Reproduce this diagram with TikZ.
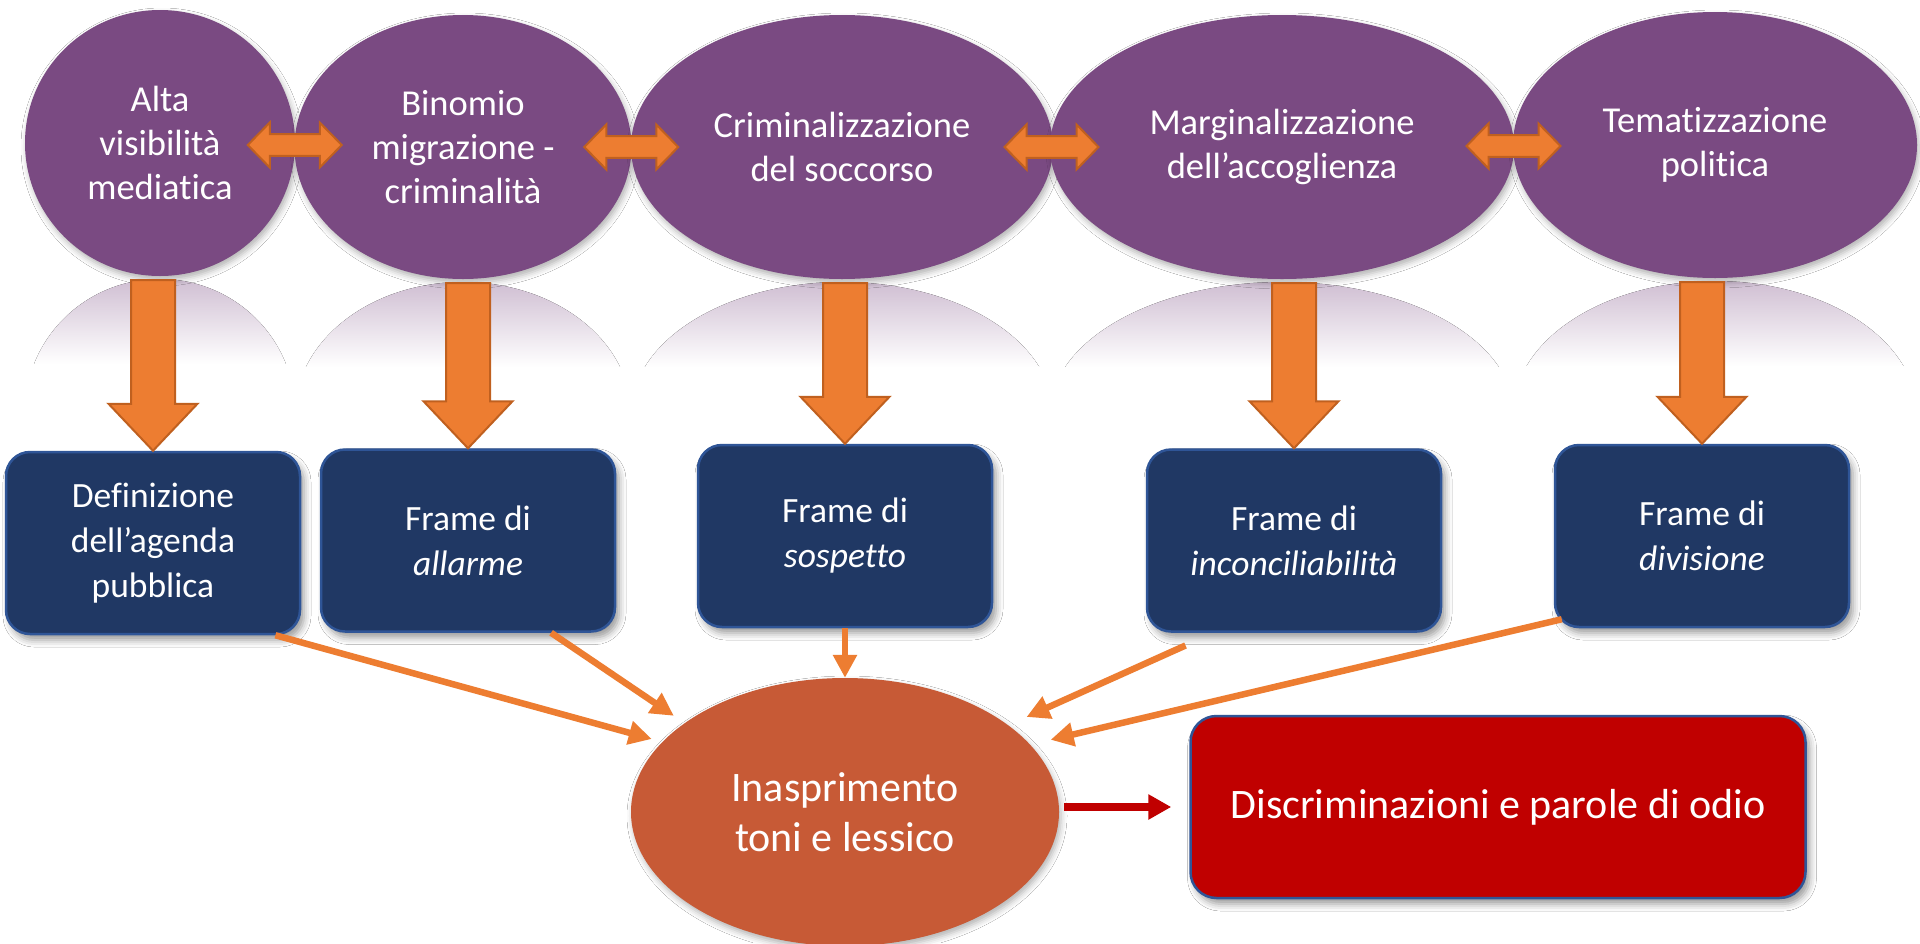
\documentclass[tikz,border=0pt]{standalone}
\usepackage{fontspec}
\setmainfont{Carlito}[Ligatures=NoCommon]
\usetikzlibrary{shapes.geometric,arrows.meta,calc,shadows.blur}
\definecolor{purp}{HTML}{7A4A82}
\definecolor{orng}{HTML}{ED7D31}
\definecolor{orngdk}{HTML}{C0601F}
\definecolor{navy}{HTML}{203864}
\definecolor{navyln}{HTML}{2F5597}
\definecolor{rust}{HTML}{C75A36}
\definecolor{hate}{HTML}{C00000}
\newcommand\downblock[2]{%
  \filldraw[blockarr] let \p1=(#1.south), \p2=(#2.north) in
    (\x2-22pt,\y1-4pt) -- (\x2+22pt,\y1-4pt) -- (\x2+22pt,\y2+47pt) --
    (\x2+44.5pt,\y2+47pt) -- (\x2,\y2) -- (\x2-44.5pt,\y2+47pt) --
    (\x2-22pt,\y2+47pt) -- cycle;}
\newcommand\dblblock[1]{%
  \begin{scope}[shift={(#1)}]
    \filldraw[blockarr] (-47,0) -- (-25,-22.5) -- (-25,-10.8) -- (25,-10.8) --
      (25,-22.5) -- (47,0) -- (25,22.5) -- (25,10.8) -- (-25,10.8) --
      (-25,22.5) -- cycle;
  \end{scope}}
\newcommand\mirrorell[4]{%
  \begin{scope}
    \clip (#1,#2+#4+3) ellipse [x radius=#3, y radius=#4];
    \fill[top color=purp!36!white, bottom color=white] (#1-#3,#2+2) rectangle (#1+#3,#2+88);
  \end{scope}}
\begin{document}
\begin{tikzpicture}[x=1pt,y=-1pt,
  topell/.style={ellipse, fill=purp, text=white, inner sep=0pt, align=center,
    font=\fontsize{36.5pt}{44pt}\selectfont,
    blur shadow={shadow xshift=2pt, shadow yshift=-4pt, shadow blur radius=6pt, shadow opacity=30}},
  fbox/.style={rectangle, rounded corners=24pt, fill=navy, draw=navyln, line width=2.5pt,
    text=white, align=center, font=\fontsize{35.5pt}{45pt}\selectfont,
    minimum width=294pt, minimum height=182pt, inner sep=0pt,
    blur shadow={shadow xshift=4pt, shadow yshift=-6pt, shadow blur radius=7pt, shadow opacity=40}},
  blockarr/.style={fill=orng, draw=orngdk, line width=2pt, line join=miter},
  conn/.style={draw=orng, line width=6.5pt, -{Triangle[length=23pt,width=23pt]}},
  redarr/.style={draw=hate, line width=8pt, -{Triangle[length=23pt,width=24pt]}}
]
\fill[white] (0,0) rectangle (1920,943);
\useasboundingbox (0,0) rectangle (1920,943);

% reflections
\mirrorell{160}{276}{135}{133}
\mirrorell{463}{279}{168}{132}
\mirrorell{842}{279}{211}{132}
\mirrorell{1282}{279}{232}{132}
\mirrorell{1715}{278}{202}{133}

% top ellipses
\node[topell, minimum width=270pt, minimum height=266pt] (E1) at (160,143) {Alta\\visibilità\\mediatica};
\node[topell, minimum width=337pt, minimum height=264pt] (E2) at (463,147) {Binomio\\migrazione -\\criminalità};
\node[topell, minimum width=422pt, minimum height=264pt] (E3) at (842,147) {Criminalizzazione\\del soccorso};
\node[topell, minimum width=464pt, minimum height=264pt] (E4) at (1282,147) {Marginalizzazione\\dell’accoglienza};
\node[topell, minimum width=404pt, minimum height=266pt] (E5) at (1715,145) {Tematizzazione\\politica};

% double arrows
\coordinate (m12) at ($(E1.east)!0.5!(E2.west)$);
\coordinate (m23) at ($(E2.east)!0.5!(E3.west)$);
\coordinate (m34) at ($(E3.east)!0.5!(E4.west)$);
\coordinate (m45) at ($(E4.east)!0.5!(E5.west)$);
\dblblock{m12}
\dblblock{m23}
\dblblock{m34}
\dblblock{m45}

% frame boxes
\node[fbox] (B1) at (153,543) {Definizione\\dell’agenda\\pubblica};
\node[fbox] (B2) at (468,540.5) {Frame di\\\textit{allarme}};
\node[fbox] (B3) at (845,536) {Frame di\\\textit{sospetto}};
\node[fbox] (B4) at (1294,540.5) {Frame di\\\textit{inconciliabilità}};
\node[fbox] (B5) at (1702,536) {Frame di\\\textit{divisione}};

% block arrows down
\downblock{E1}{B1}
\downblock{E2}{B2}
\downblock{E3}{B3}
\downblock{E4}{B4}
\downblock{E5}{B5}

% result nodes
\node[ellipse, fill=rust, text=white, inner sep=0pt, align=center,
  minimum width=428pt, minimum height=268pt, font=\fontsize{42pt}{50pt}\selectfont,
  blur shadow={shadow xshift=2pt, shadow yshift=-4pt, shadow blur radius=6pt, shadow opacity=30}]
  (I) at (845,812) {Inasprimento\\toni e lessico};
\node[rectangle, rounded corners=26pt, fill=hate, draw=navyln, line width=2.5pt,
  text=white, inner sep=0pt, minimum width=615pt, minimum height=182pt,
  font=\fontsize{42pt}{50pt}\selectfont,
  blur shadow={shadow xshift=4pt, shadow yshift=-6pt, shadow blur radius=7pt, shadow opacity=40}]
  (D) at (1498,807) {Discriminazioni e parole di odio};

% connectors
\draw[conn, shorten >=11pt] (B1.-37) -- (I.159);
\draw[conn, shorten >=13pt] (B2.-48) -- (I.151);
\draw[conn] (B3.south) -- (I.north);
\draw[conn, shorten <=31pt, shorten >=20pt] (B4.-131) -- (I.28);
\draw[conn, shorten >=21pt] ($(B5.south west)+(8,-9)$) -- (I.20);
\draw[redarr, shorten <=5pt, shorten >=18pt] (I.east |- D.west) -- (D.west);
\end{tikzpicture}
\end{document}
